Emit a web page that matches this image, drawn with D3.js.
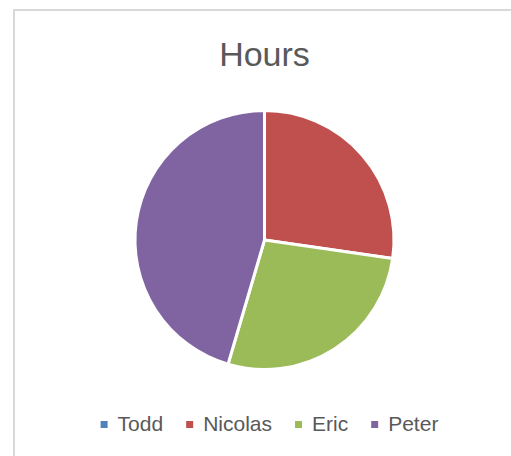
<!DOCTYPE html>
<html>
<head>
<meta charset="utf-8">
<script src="https://cdn.jsdelivr.net/npm/d3@7"></script>
<style>
  body { margin: 0; background: #fff; }
</style>
</head>
<body>
<div class="grafico"></div>
<script>
var nomes = ["Todd", "Nicolas", "Eric", "Peter"];
var horas = [0, 3, 3, 5];
var cores = ["#4F81BD", "#C0504D", "#9BBB59", "#8064A2"];
var titulo = "Hours";

var width = 511;
var height = 456;

var svg = d3.select(".grafico")
  .append("svg")
    .attr("width", width)
    .attr("height", height)
    .style("font-family", "'Liberation Sans', Arial, sans-serif");

// moldura do gráfico (só aparece em cima e à esquerda)
svg.append("rect")
  .attr("x", 14)
  .attr("y", 10)
  .attr("width", 600)
  .attr("height", 600)
  .attr("fill", "none")
  .attr("stroke", "#d9d9d9")
  .attr("stroke-width", 2);

svg.append("text")
  .attr("x", 264.5)
  .attr("y", 66)
  .attr("text-anchor", "middle")
  .attr("font-size", 34)
  .attr("fill", "#595959")
  .text(titulo);

var dados = nomes.map(function(n, i){ return { nome: n, valor: horas[i], cor: cores[i] }; });

var pie = d3.pie()
  .sort(null)
  .value(function(d){ return d.valor; });

var arc = d3.arc()
  .innerRadius(0)
  .outerRadius(129.5);

var g = svg.append("g")
  .attr("transform", "translate(264.5, 240)");

g.selectAll("path")
  .data(pie(dados))
  .enter()
    .append("path")
    .attr("d", arc)
    .attr("fill", function(d){ return d.data.cor; })
    .attr("stroke", "#fff")
    .attr("stroke-width", 3)
    .attr("stroke-linejoin", "round");

// legenda
var legenda = svg.append("g");
var itens = legenda.selectAll("g")
  .data(dados)
  .enter()
    .append("g");

itens.append("rect")
  .attr("width", 7)
  .attr("height", 7)
  .attr("y", -10)
  .attr("fill", function(d){ return d.cor; });

itens.append("text")
  .attr("x", 17)
  .attr("font-size", 21)
  .attr("fill", "#595959")
  .text(function(d){ return d.nome; });

var xPos = 0;
itens.each(function(){
  var w = d3.select(this).select("text").node().getComputedTextLength();
  d3.select(this).attr("transform", "translate(" + xPos + ",0)");
  xPos += 17 + w + 23;
});
var total = xPos - 23;
legenda.attr("transform", "translate(" + (269.5 - total / 2) + ", 431)");
</script>
</body>
</html>
